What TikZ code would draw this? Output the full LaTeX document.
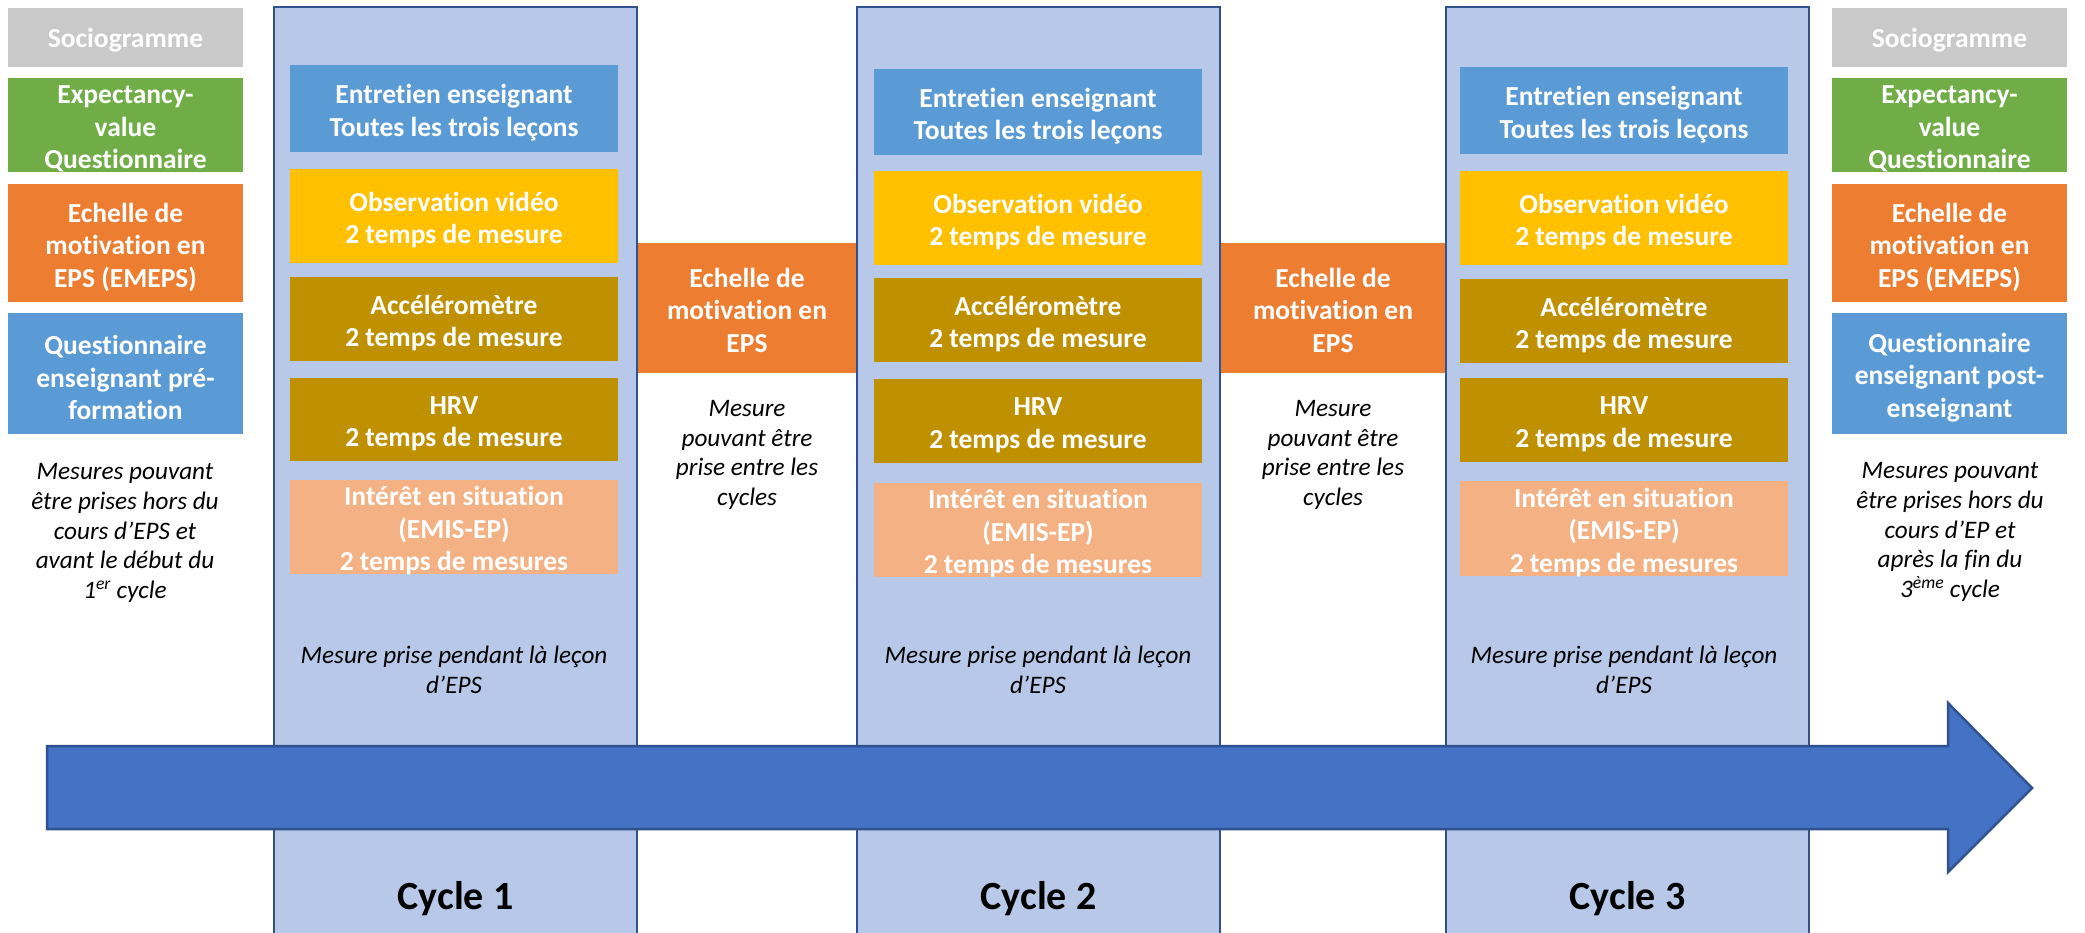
\documentclass[tikz,border=0pt]{standalone}
\usepackage{fontspec}
\setmainfont{Carlito}[RawFeature={-liga}]
\definecolor{grayb}{HTML}{C9C9C9}
\definecolor{greenb}{HTML}{70AD47}
\definecolor{orangeb}{HTML}{ED7D31}
\definecolor{blueb}{HTML}{5B9BD5}
\definecolor{goldb}{HTML}{FFC000}
\definecolor{dgoldb}{HTML}{BF9000}
\definecolor{peachb}{HTML}{F4B183}
\definecolor{colfill}{HTML}{B8C8E8}
\definecolor{colborder}{HTML}{2F528F}
\definecolor{arrowfill}{HTML}{4472C4}
\tikzset{
  mbox/.style={rectangle, inner sep=0pt},
  btext/.style={inner sep=0pt, text=white, align=center, yshift=-4pt,
    font=\bfseries\fontsize{27.5}{32.5}\selectfont},
  sidebox/.style={mbox, minimum width=235pt},
  inbox/.style={mbox, minimum width=328pt},
  colbox/.style={rectangle, inner sep=0pt, fill=colfill, draw=colborder,
    line width=2pt, minimum width=363pt, minimum height=938pt},
  note/.style={inner sep=0pt, align=center, text=black,
    font=\itshape\fontsize{25.2}{29.6}\selectfont},
  cyclelabel/.style={inner sep=0pt, text=black,
    font=\bfseries\fontsize{40}{48}\selectfont},
  bigarrow/.style={fill=arrowfill, draw=colborder, line width=2.5pt, line join=miter},
}
\begin{document}
\begin{tikzpicture}[x=1pt,y=-1pt]
\useasboundingbox (0,0) rectangle (2085,932);
\clip (0,0) rectangle (2085,932);
\fill[white] (0,0) rectangle (2085,932);

% left side boxes
\node[sidebox, fill=grayb, minimum height=59pt, label={[btext, yshift=1pt]center:Sociogramme}] (lsoc) at (125.5,37.5) {};
\node[sidebox, fill=greenb, minimum height=94pt, label={[btext]center:{Expectancy-\\value\\Questionnaire}}] (lev) at (125.5,125) {};
\node[sidebox, fill=orangeb, minimum height=118pt, label={[btext]center:{Echelle de\\motivation en\\EPS (EMEPS)}}] (lem) at (125.5,243) {};
\node[sidebox, fill=blueb, minimum height=121pt, label={[btext]center:{Questionnaire\\enseignant pré-\\formation}}] (lq) at (125.5,373.5) {};
\node[note] (lnote) at (125,533) {Mesures pouvant\\être prises hors du\\cours d’EPS et\\avant le début du\\1\textsuperscript{er} cycle};

% right side boxes
\node[sidebox, fill=grayb, minimum height=59pt, label={[btext, yshift=1pt]center:Sociogramme}] (rsoc) at (1949.5,37.5) {};
\node[sidebox, fill=greenb, minimum height=94pt, label={[btext]center:{Expectancy-\\value\\Questionnaire}}] (rev) at (1949.5,125) {};
\node[sidebox, fill=orangeb, minimum height=118pt, label={[btext]center:{Echelle de\\motivation en\\EPS (EMEPS)}}] (rem) at (1949.5,243) {};
\node[sidebox, fill=blueb, minimum height=121pt, label={[btext]center:{Questionnaire\\enseignant post-\\enseignant}}] (rq) at (1949.5,373.5) {};
\node[note] (rnote) at (1950,532) {Mesures pouvant\\être prises hors du\\cours d’EP et\\après la fin du\\3\textsuperscript{ème} cycle};

% between boxes
\node[mbox, fill=orangeb, minimum width=220pt, minimum height=130pt, label={[btext, yshift=2pt]center:{Echelle de\\motivation en\\EPS}}] (b1) at (747,308) {};
\node[mbox, fill=orangeb, minimum width=226pt, minimum height=130pt, label={[btext, yshift=2pt]center:{Echelle de\\motivation en\\EPS}}] (b2) at (1333,308) {};
\node[note] (bn1) at (747,455) {Mesure\\pouvant être\\prise entre les\\cycles};
\node[note] (bn2) at (1333,455) {Mesure\\pouvant être\\prise entre les\\cycles};

% columns
\node[colbox] (col1) at (455.5,476) {};
\node[colbox] (col2) at (1038.5,476) {};
\node[colbox] (col3) at (1627.5,476) {};

% cycle 1
\node[inbox, fill=blueb, minimum height=87pt, label={[btext]center:{Entretien enseignant\\Toutes les trois leçons}}] (e1) at (454,108.5) {};
\node[inbox, fill=goldb, minimum height=94pt, label={[btext]center:{Observation vidéo\\2 temps de mesure}}] (o1) at (454,216) {};
\node[inbox, fill=dgoldb, minimum height=84pt, label={[btext]center:{Accéléromètre\\2 temps de mesure}}] (a1) at (454,319) {};
\node[inbox, fill=dgoldb, minimum height=83pt, label={[btext]center:{HRV\\2 temps de mesure}}] (h1) at (454,419.5) {};
\node[inbox, fill=peachb, minimum height=94pt, label={[btext]center:{Intérêt en situation\\(EMIS-EP)\\2 temps de mesures}}] (i1) at (454,527) {};
\node[note] (n1) at (454,670) {Mesure prise pendant là leçon\\d’EPS};

% cycle 2
\node[inbox, fill=blueb, minimum height=86pt, label={[btext]center:{Entretien enseignant\\Toutes les trois leçons}}] (e2) at (1038,112) {};
\node[inbox, fill=goldb, minimum height=94pt, label={[btext]center:{Observation vidéo\\2 temps de mesure}}] (o2) at (1038,218) {};
\node[inbox, fill=dgoldb, minimum height=84pt, label={[btext]center:{Accéléromètre\\2 temps de mesure}}] (a2) at (1038,320) {};
\node[inbox, fill=dgoldb, minimum height=84pt, label={[btext]center:{HRV\\2 temps de mesure}}] (h2) at (1038,421) {};
\node[inbox, fill=peachb, minimum height=94pt, label={[btext]center:{Intérêt en situation\\(EMIS-EP)\\2 temps de mesures}}] (i2) at (1038,530) {};
\node[note] (n2) at (1038,670) {Mesure prise pendant là leçon\\d’EPS};

% cycle 3
\node[inbox, fill=blueb, minimum height=87pt, label={[btext]center:{Entretien enseignant\\Toutes les trois leçons}}] (e3) at (1624,110.5) {};
\node[inbox, fill=goldb, minimum height=94pt, label={[btext]center:{Observation vidéo\\2 temps de mesure}}] (o3) at (1624,218) {};
\node[inbox, fill=dgoldb, minimum height=84pt, label={[btext]center:{Accéléromètre\\2 temps de mesure}}] (a3) at (1624,321) {};
\node[inbox, fill=dgoldb, minimum height=84pt, label={[btext]center:{HRV\\2 temps de mesure}}] (h3) at (1624,420) {};
\node[inbox, fill=peachb, minimum height=95pt, label={[btext]center:{Intérêt en situation\\(EMIS-EP)\\2 temps de mesures}}] (i3) at (1624,528.5) {};
\node[note] (n3) at (1624,670) {Mesure prise pendant là leçon\\d’EPS};

% timeline arrow
\draw[bigarrow] (47,746) -- (1948,746) -- (1948,703) -- (2032,788) -- (1948,872) -- (1948,829) -- (47,829) -- cycle;

% cycle labels
\node[cyclelabel] (cl1) at (455.5,899) {Cycle 1};
\node[cyclelabel] (cl2) at (1038.5,899) {Cycle 2};
\node[cyclelabel] (cl3) at (1627.5,899) {Cycle 3};
\end{tikzpicture}
\end{document}
